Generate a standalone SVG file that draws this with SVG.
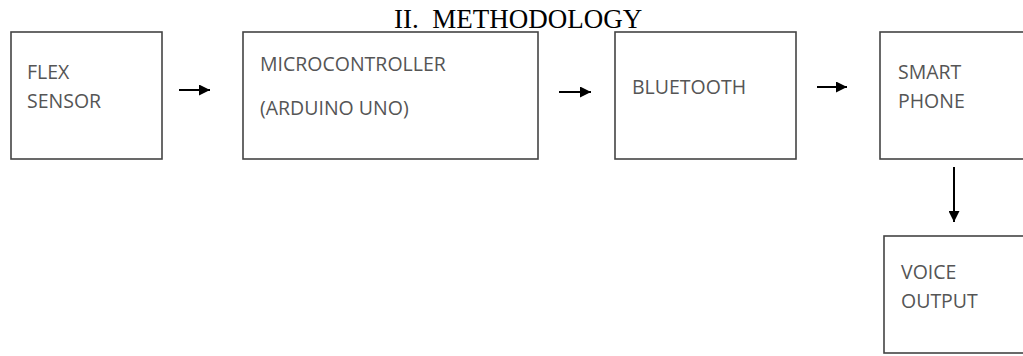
<svg xmlns="http://www.w3.org/2000/svg" width="1023" height="356" viewBox="0 0 1023 356">
<defs>
<marker id="ah" viewBox="0 0 10 10" refX="10" refY="5" markerWidth="5.5" markerHeight="5.5" orient="auto" markerUnits="strokeWidth"><path d="M0,0 L10,5 L0,10 z" fill="#000"/></marker>
</defs>
<style>
.box{fill:#fff;stroke:#444;stroke-width:1.6}
.lbl{font-family:"Open Sans","Liberation Sans",sans-serif;font-size:19.5px;fill:#555}
.con{stroke:#000;stroke-width:2;fill:none;marker-end:url(#ah)}
.title{font-family:"Liberation Serif",serif;font-size:27px;fill:#000}
</style>
<rect width="1023" height="356" fill="#fff"/>
<text class="title" x="394" y="28" xml:space="preserve">II.  METHODOLOGY</text>
<g id="flex"><rect class="box" x="11" y="32" width="151" height="127"/><text class="lbl" x="27" y="79">FLEX</text><text class="lbl" x="27" y="108">SENSOR</text></g>
<g id="mcu"><rect class="box" x="243" y="32" width="295" height="127"/><text class="lbl" x="260" y="71">MICROCONTROLLER</text><text class="lbl" x="260" y="115">(ARDUINO UNO)</text></g>
<g id="bt"><rect class="box" x="615" y="32" width="181" height="127"/><text class="lbl" x="632" y="94">BLUETOOTH</text></g>
<g id="phone"><rect class="box" x="880" y="32" width="150" height="127"/><text class="lbl" x="898" y="79">SMART</text><text class="lbl" x="898" y="108">PHONE</text></g>
<g id="voice"><rect class="box" x="884" y="236" width="150" height="117"/><text class="lbl" x="901" y="279">VOICE</text><text class="lbl" x="901" y="308">OUTPUT</text></g>
<g id="connectors">
<line class="con" x1="179" y1="90" x2="210" y2="90"/>
<line class="con" x1="559" y1="92" x2="591" y2="92"/>
<line class="con" x1="817" y1="87" x2="847" y2="87"/>
<line class="con" x1="954" y1="167" x2="954" y2="222"/>
</g>
</svg>
